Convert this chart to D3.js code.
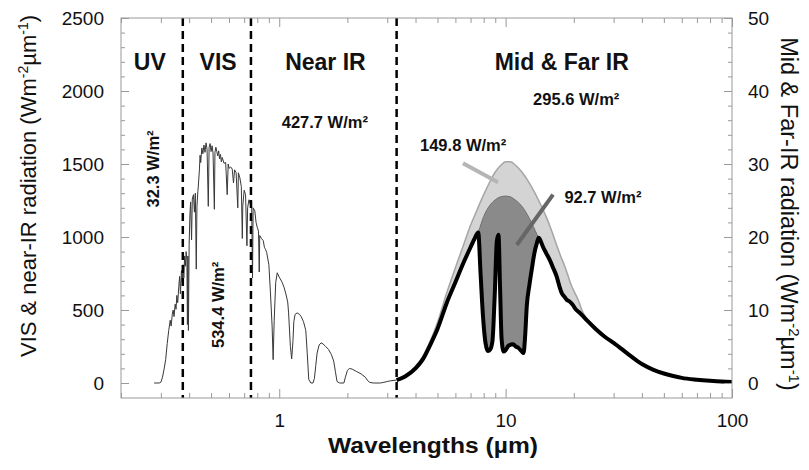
<!DOCTYPE html>
<html>
<head>
<meta charset="utf-8">
<script src="https://cdn.jsdelivr.net/npm/d3@7"></script>
<style>
  html, body { margin: 0; padding: 0; background: #fff; }
  svg { display: block; }
  text { font-family: "Liberation Sans", Arial, sans-serif; fill: #111; }
</style>
</head>
<body>
<svg id="chart" width="809" height="470"></svg>
<script>
// ---------- data ----------
// Solar spectrum (left axis, W m-2 um-1): [wavelength um, value]
const solarSpectrum = [
[0.28,0],[0.295,0],[0.300,5],[0.305,40],[0.310,95],[0.315,160],[0.320,270],[0.325,360],[0.330,430],[0.333,390],[0.337,470],[0.340,500],[0.343,455],[0.347,540],[0.350,505],[0.353,600],[0.356,550],[0.360,660],[0.363,730],[0.366,610],[0.370,770],[0.373,690],[0.376,810],[0.379,720],[0.382,870],[0.385,800],[0.388,900],[0.391,840],[0.393,400],[0.395,870],[0.397,360],[0.400,950],[0.403,1150],[0.406,1240],[0.410,980],[0.413,1260],[0.418,1290],[0.422,1170],[0.426,1300],[0.430,780],[0.433,1210],[0.437,1310],[0.440,1370],[0.444,1460],[0.447,1560],[0.450,1510],[0.455,1610],[0.460,1570],[0.465,1630],[0.470,1580],[0.475,1645],[0.480,1600],[0.486,1210],[0.490,1615],[0.495,1640],[0.500,1585],[0.505,1625],[0.510,1575],[0.517,1190],[0.520,1580],[0.525,1615],[0.530,1585],[0.535,1555],[0.540,1590],[0.545,1535],[0.550,1565],[0.555,1515],[0.560,1545],[0.570,1505],[0.580,1510],[0.589,1290],[0.595,1500],[0.600,1470],[0.610,1480],[0.620,1465],[0.628,1370],[0.635,1460],[0.645,1440],[0.656,1200],[0.660,1440],[0.670,1405],[0.680,1345],[0.687,990],[0.690,1210],[0.700,1320],[0.710,1290],[0.720,940],[0.725,1200],[0.735,1255],[0.745,1225],[0.755,1240],[0.762,720],[0.767,1200],[0.780,1180],[0.790,1100],[0.800,1065],[0.810,1040],[0.816,760],[0.820,1010],[0.835,990],[0.850,975],[0.860,930],[0.870,915],[0.880,895],[0.900,810],[0.915,610],[0.930,390],[0.940,160],[0.950,430],[0.965,690],[0.980,755],[1.00,725],[1.03,690],[1.05,655],[1.07,610],[1.09,555],[1.10,480],[1.12,250],[1.135,165],[1.15,290],[1.16,420],[1.175,470],[1.20,480],[1.23,470],[1.25,455],[1.28,420],[1.31,360],[1.33,200],[1.35,25],[1.38,0],[1.41,0],[1.43,30],[1.45,120],[1.47,205],[1.50,260],[1.53,275],[1.56,268],[1.60,252],[1.65,230],[1.70,195],[1.74,150],[1.77,80],[1.80,10],[1.85,0],[1.93,0],[1.96,40],[2.00,85],[2.04,100],[2.10,95],[2.20,78],[2.30,62],[2.40,40],[2.45,20],[2.50,5],[2.60,0],[2.80,0],[2.90,5],[3.00,10],[3.10,15],[3.30,20]
];
// Mid & far IR (right axis, W m-2 um-1)
const outerEnvelope = [
[3.3,0.5],[3.6,1.1],[4.0,2.3],[4.3,3.6],[4.64,5.7],[5.0,8.3],[5.5,12.4],[6.0,15.8],[6.5,18.8],[7.0,21.6],[7.5,23.8],[8.0,25.8],[8.5,27.5],[9.0,28.9],[9.5,29.8],[10.0,30.3],[10.5,30.3],[11.0,29.9],[11.5,29.3],[12.0,28.6],[12.5,27.8],[13.0,26.9],[14.0,25.0],[15.0,23.0],[16.0,20.8],[16.5,19.6],[17.5,17.4],[18.3,15.9],[19.5,13.4],[20.9,11.4],[22.0,9.6],[24,7.9],[27.5,6.2],[30,5.4],[35,3.8],[40,2.5],[50,1.2],[60,0.6],[80,0.25],[100,0.1]
];
const innerEnvelope = [
[6.8,17.0],[7.2,19.0],[7.6,20.8],[8.0,22.8],[8.5,24.3],[9.0,25.1],[9.5,25.5],[10.0,25.6],[10.5,25.5],[11.0,25.1],[11.5,24.6],[12.0,23.9],[12.5,23.0],[13.0,22.0],[13.5,20.9],[14.0,19.8],[14.5,18.5],[15.0,17.2]
];
const outgoingIR = [
[3.3,0.4],[3.6,0.9],[4.0,2.0],[4.3,3.2],[4.64,5.2],[5.0,7.4],[5.5,11.0],[6.0,13.8],[6.5,16.4],[7.0,18.6],[7.3,19.8],[7.57,20.6],[7.75,15],[7.95,9],[8.15,5.5],[8.35,4.4],[8.55,4.6],[8.75,5.8],[8.95,12],[9.15,19.5],[9.3,20.3],[9.45,13],[9.6,6],[9.8,4.3],[10.0,4.5],[10.3,5.1],[10.8,5.3],[11.1,5.0],[11.4,4.8],[11.8,4.3],[12.0,4.1],[12.2,6.5],[12.4,10.5],[12.75,13.5],[13.1,15.9],[13.4,17.8],[13.75,19.2],[14.0,19.9],[14.3,19.4],[14.6,18.7],[15.1,17.8],[15.7,16.8],[16.2,15.8],[16.8,14.6],[17.3,13.2],[17.7,12.3],[18.1,11.9],[18.6,11.4],[19.1,11.2],[19.7,10.8],[20.4,10.1],[21.3,9.6],[23,8.5],[25,7.4],[27.5,6.3],[30,5.5],[35,3.9],[40,2.6],[45,1.8],[50,1.3],[55,0.95],[60,0.7],[70,0.45],[80,0.3],[90,0.2],[100,0.15]
];
// Band boundaries (um)
const bandBounds = [0.375, 0.75, 3.3];
const bandLabels = [
  {text: "UV", wl: 0.268},
  {text: "VIS", wl: 0.537},
  {text: "Near IR", wl: 1.6},
  {text: "Mid & Far IR", wl: 17.7}
];
// Flux annotations
const fluxLabels = [
  {text: "32.3 W/m²", wl: 0.277, v: 1466, axis: "L", rot: true},
  {text: "534.4 W/m²", wl: 0.537, v: 535, axis: "L", rot: true},
  {text: "427.7 W/m²", wl: 1.59, v: 1785, axis: "L", rot: false},
  {text: "295.6 W/m²", wl: 20.5, v: 38.9, axis: "R", rot: false},
  {text: "149.8 W/m²", wl: 6.49, v: 32.6, axis: "R", rot: false},
  {text: "92.7 W/m²", wl: 26.9, v: 25.4, axis: "R", rot: false}
];
// Pointer lines (wavelength, right-axis value)
const pointerLight = [[6.48, 30.1], [9.25, 27.5]];
const pointerDark = [[16.2, 25.8], [11.2, 18.9]];

const leftTicks = [0, 500, 1000, 1500, 2000, 2500];
const rightTicks = [0, 10, 20, 30, 40, 50];
const xMajorTicks = [1, 10, 100];
const xMinorTicks = [0.2,0.3,0.4,0.5,0.6,0.7,0.8,0.9,2,3,4,5,6,7,8,9,20,30,40,50,60,70,80,90];

// ---------- layout ----------
const svg = d3.select("#chart");
const L = 121, R = 732, T = 18, B = 398;
const x = d3.scaleLog().domain([0.2, 100]).range([L, R]);
const yL = d3.scaleLinear().domain([0, 2500]).range([383, T]);
const yR = d3.scaleLinear().domain([0, 50]).range([383, T]);

const plot = svg.append("g");
plot.append("defs").append("clipPath").attr("id", "clip")
  .append("rect").attr("x", L).attr("y", T).attr("width", R - L).attr("height", B - T);
const g = plot.append("g").attr("clip-path", "url(#clip)");

// solar spectrum
g.append("path").datum(solarSpectrum)
  .attr("d", d3.line().x(d => x(d[0])).y(d => yL(d[1])))
  .attr("fill", "none").attr("stroke", "#383838").attr("stroke-width", 1);

const areaR = d3.area().curve(d3.curveMonotoneX).x(d => x(d[0])).y0(yR(0)).y1(d => yR(d[1]));
const lineR = d3.line().curve(d3.curveMonotoneX).x(d => x(d[0])).y(d => yR(d[1]));

g.append("path").datum(outerEnvelope).attr("d", areaR).attr("fill", "#d4d4d4");
g.append("path").datum(outerEnvelope).attr("d", lineR).attr("fill", "none").attr("stroke", "#a5a5a5").attr("stroke-width", 1.5);
g.append("path").datum(innerEnvelope).attr("d", areaR).attr("fill", "#8a8a8a");
g.append("path").datum(innerEnvelope).attr("d", lineR).attr("fill", "none").attr("stroke", "#707070").attr("stroke-width", 1);
g.append("path").datum(outgoingIR).attr("d", areaR).attr("fill", "#fff");
g.append("path").datum(outgoingIR).attr("d", lineR).attr("fill", "none")
  .attr("stroke", "#000").attr("stroke-width", 4).attr("stroke-linejoin", "round");

// pointer lines
g.append("path").datum(pointerLight).attr("d", d3.line().x(d => x(d[0])).y(d => yR(d[1])))
  .attr("stroke", "#b5b5b5").attr("stroke-width", 4).attr("fill", "none");
g.append("path").datum(pointerDark).attr("d", d3.line().x(d => x(d[0])).y(d => yR(d[1])))
  .attr("stroke", "#666").attr("stroke-width", 4).attr("fill", "none");

// band boundaries
g.selectAll("line.band").data(bandBounds).join("line").attr("class", "band")
  .attr("x1", d => x(d)).attr("x2", d => x(d)).attr("y1", T).attr("y2", B)
  .attr("stroke", "#000").attr("stroke-width", 2.5).attr("stroke-dasharray", "8,5");

// frame
svg.append("rect").attr("x", L).attr("y", T).attr("width", R - L).attr("height", B - T)
  .attr("fill", "none").attr("stroke", "#999").attr("stroke-width", 1);

// axes
function styleAxis(sel) {
  sel.select(".domain").remove();
  sel.selectAll(".tick line").attr("stroke", "#999");
  sel.selectAll("text").attr("font-size", 19).attr("fill", "#111")
    .attr("font-family", "'Liberation Sans', Arial, sans-serif");
}
const minorLeft = d3.range(0, 2501, 100);
const minorRight = d3.range(0, 51, 2);
svg.append("g").attr("transform", `translate(${L},0)`)
  .call(d3.axisLeft(yL).tickValues(minorLeft).tickSize(-4).tickFormat("")).call(styleAxis);
svg.append("g").attr("transform", `translate(${L},0)`)
  .call(d3.axisLeft(yL).tickValues(leftTicks).tickSize(-8).tickPadding(17).tickFormat(d3.format("d"))).call(styleAxis);
svg.append("g").attr("transform", `translate(${R},0)`)
  .call(d3.axisRight(yR).tickValues(minorRight).tickSize(-4).tickFormat("")).call(styleAxis);
svg.append("g").attr("transform", `translate(${R},0)`)
  .call(d3.axisRight(yR).tickValues(rightTicks).tickSize(-8).tickPadding(16).tickFormat(d3.format("d"))).call(styleAxis);
svg.append("g").attr("transform", `translate(0,${B})`)
  .call(d3.axisBottom(x).tickValues(xMinorTicks).tickSize(-5).tickFormat("")).call(styleAxis);
svg.append("g").attr("transform", `translate(0,${B})`)
  .call(d3.axisBottom(x).tickValues(xMajorTicks).tickSize(-9).tickPadding(16).tickFormat(d3.format("d"))).call(styleAxis);
svg.append("g").attr("transform", `translate(0,${T})`)
  .call(d3.axisTop(x).tickValues(xMinorTicks).tickSize(-5).tickFormat("")).call(styleAxis);
svg.append("g").attr("transform", `translate(0,${T})`)
  .call(d3.axisTop(x).tickValues(xMajorTicks).tickSize(-9).tickFormat("")).call(styleAxis);

// band labels
svg.selectAll("text.band").data(bandLabels).join("text").attr("class", "band")
  .attr("x", d => x(d.wl)).attr("y", 70).attr("text-anchor", "middle")
  .attr("font-size", 23).attr("font-weight", "bold").text(d => d.text);

// flux labels
fluxLabels.forEach(f => {
  const px = x(f.wl), py = (f.axis === "L" ? yL : yR)(f.v);
  svg.append("text")
    .attr("transform", `translate(${px},${py})` + (f.rot ? " rotate(-90)" : ""))
    .attr("text-anchor", "middle").attr("dy", "0.35em")
    .attr("font-size", 16.5).attr("font-weight", "bold").text(f.text);
});

// axis titles
svg.append("text").attr("x", 433).attr("y", 453).attr("text-anchor", "middle")
  .attr("font-size", 22).attr("font-weight", "bold")
  .attr("textLength", 210).attr("lengthAdjust", "spacingAndGlyphs").text("Wavelengths (µm)");

function unitTitle(parent, main, sup) {
  parent.append("tspan").text(main + " (Wm");
  parent.append("tspan").attr("font-size", sup).attr("dy", -8).text("-2");
  parent.append("tspan").attr("dy", 8).text("µm");
  parent.append("tspan").attr("font-size", sup).attr("dy", -8).text("-1");
  parent.append("tspan").attr("dy", 8).text(")");
}
const lt = svg.append("text").attr("transform", "translate(28,186) rotate(-90)")
  .attr("text-anchor", "middle").attr("dy", "0.35em").attr("font-size", 22);
unitTitle(lt, "VIS & near-IR radiation", 14);
const rt = svg.append("text").attr("transform", "translate(789,214) rotate(90)")
  .attr("text-anchor", "middle").attr("dy", "0.35em").attr("font-size", 23.5);
unitTitle(rt, "Mid & Far-IR radiation", 15);
</script>
</body>
</html>
